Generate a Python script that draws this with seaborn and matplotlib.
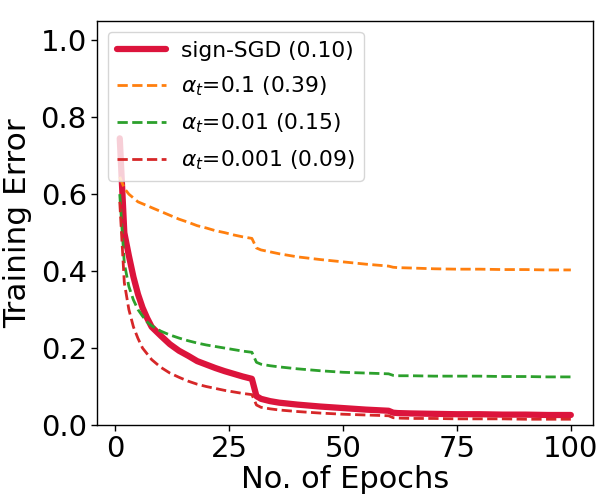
import matplotlib
matplotlib.use("Agg")
import matplotlib.pyplot as plt
import seaborn as sns
import pandas as pd

epochs = [1, 2, 3, 4, 5, 6, 7, 8, 10, 12, 14, 16, 18, 20, 22, 24, 26, 28, 30,
          31, 32, 34, 36, 40, 45, 50, 55, 60, 61, 62, 65, 70, 75, 80, 85, 90, 95, 100]

sign_sgd = [0.745, 0.50, 0.44, 0.385, 0.34, 0.305, 0.278, 0.255, 0.232, 0.21, 0.193,
            0.18, 0.166, 0.157, 0.148, 0.14, 0.133, 0.126, 0.12,
            0.075, 0.068, 0.062, 0.058, 0.053, 0.048, 0.044, 0.040, 0.037,
            0.032, 0.031, 0.030, 0.029, 0.028, 0.028, 0.027, 0.027, 0.026, 0.026]

alpha_01 = [0.645, 0.615, 0.60, 0.59, 0.58, 0.575, 0.57, 0.565, 0.555, 0.545, 0.535,
            0.527, 0.518, 0.512, 0.505, 0.50, 0.494, 0.489, 0.485,
            0.46, 0.455, 0.45, 0.445, 0.437, 0.43, 0.424, 0.418, 0.413,
            0.41, 0.409, 0.408, 0.406, 0.405, 0.405, 0.404, 0.404, 0.403, 0.403]

alpha_001 = [0.60, 0.42, 0.36, 0.325, 0.30, 0.283, 0.268, 0.258, 0.244, 0.234, 0.226,
             0.219, 0.213, 0.208, 0.204, 0.200, 0.196, 0.192, 0.189,
             0.163, 0.158, 0.154, 0.151, 0.146, 0.141, 0.137, 0.135, 0.133,
             0.129, 0.128, 0.128, 0.127, 0.127, 0.127, 0.126, 0.126, 0.125, 0.125]

alpha_0001 = [0.58, 0.37, 0.30, 0.255, 0.225, 0.20, 0.185, 0.17, 0.15, 0.135, 0.124,
              0.114, 0.106, 0.100, 0.095, 0.090, 0.086, 0.082, 0.079,
              0.052, 0.046, 0.042, 0.039, 0.035, 0.031, 0.028, 0.026, 0.024,
              0.019, 0.018, 0.017, 0.017, 0.016, 0.016, 0.016, 0.015, 0.015, 0.015]

labels = ["sign-SGD (0.10)", r"$\alpha_t$=0.1 (0.39)",
          r"$\alpha_t$=0.01 (0.15)", r"$\alpha_t$=0.001 (0.09)"]

sns.set_style("white")
plt.rcParams['font.family'] = ['DejaVu Sans']
plt.rcParams['text.color'] = 'black'
plt.rcParams['axes.labelcolor'] = 'black'
plt.rcParams['xtick.color'] = 'black'
plt.rcParams['ytick.color'] = 'black'
plt.rcParams['legend.edgecolor'] = '0.8'

fig = plt.figure(figsize=(6, 5), dpi=100)
ax = fig.add_axes([0.162, 0.15, 0.827, 0.808])

series = [
    (sign_sgd, labels[0], "crimson", "-", 4.5),
    (alpha_01, labels[1], "tab:orange", "--", 2.0),
    (alpha_001, labels[2], "tab:green", "--", 2.0),
    (alpha_0001, labels[3], "tab:red", "--", 2.0),
]
for vals, lab, col, ls, lw in series:
    df = pd.DataFrame({"epoch": epochs, "err": vals})
    sns.lineplot(data=df, x="epoch", y="err", ax=ax, label=lab, color=col,
                 linestyle=ls, linewidth=lw)

ax.set_xlim(-3.95, 104.95)
ax.set_ylim(0, 1.05)
ax.set_xticks([0, 25, 50, 75, 100])
ax.set_yticks([0.0, 0.2, 0.4, 0.6, 0.8, 1.0])
ax.tick_params(axis='both', labelsize=21, direction='out', length=4, width=1,
               color='black', labelcolor='black', bottom=True, left=True)
ax.set_xlabel("No. of Epochs", fontsize=22, labelpad=1, color='black')
ax.set_ylabel("Training Error", fontsize=22.5, labelpad=6, color='black')
for s in ax.spines.values():
    s.set_color("black")
    s.set_linewidth(1.0)
leg = ax.legend(loc="upper left", fontsize=15.7, handlelength=2.25, labelspacing=0.62,
                handletextpad=0.7)
for t in leg.get_texts():
    t.set_color('black')

fig.savefig("out.png", dpi=100)
